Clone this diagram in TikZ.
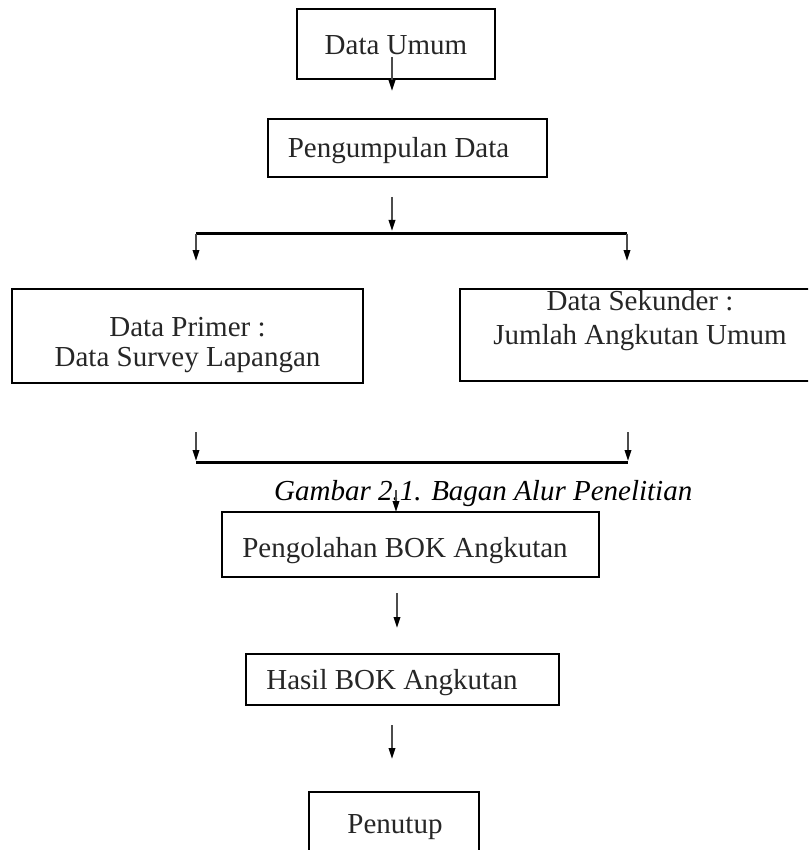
\documentclass[tikz,border=0pt]{standalone}
\usepackage{fontspec}
\setmainfont{Liberation Serif}
\usetikzlibrary{arrows.meta}
\begin{document}
\begin{tikzpicture}[x=1pt,y=-1pt,
  box/.style={draw=black,line width=1.7pt,inner sep=0pt,outer sep=0pt},
  lbl/.style={font=\fontsize{29}{31}\selectfont,anchor=base,inner sep=0pt,text=black!85},
  arr/.style={draw=black!70,line width=2pt,-{Triangle[length=11pt,width=6.5pt,fill=black,color=black]}},
  bar/.style={draw=black,line width=2.8pt}]
\useasboundingbox (0,0) rectangle (808,850);
\clip (0,0) rectangle (808,850);
% boxes
\node[box,minimum width=198pt,minimum height=70pt] (du) at (396,44) {};
\node[box,minimum width=279pt,minimum height=58pt] (pd) at (407.5,148) {};
\node[box,minimum width=351pt,minimum height=94pt] (dp) at (187.5,336) {};
\node[box,minimum width=360pt,minimum height=92pt] (ds) at (640,335) {};
\node[box,minimum width=377pt,minimum height=65pt] (pb) at (410.5,544.5) {};
\node[box,minimum width=313pt,minimum height=51pt] (hb) at (402.5,679.5) {};
\node[box,minimum width=170pt,minimum height=88pt] (pt) at (394,836) {};
% texts
\node[lbl] (tdu) at (396,55) {Data Umum};
\node[lbl] (tpd) at (398.5,158) {Pengumpulan Data};
\node[lbl] (tdp1) at (187.5,336) {Data Primer :};
\node[lbl] (tdp2) at (187.5,366) {Data Survey Lapangan};
\node[lbl] (tds1) at (640,310) {Data Sekunder :};
\node[lbl] (tds2) at (640,344) {Jumlah Angkutan Umum};
\node[lbl,anchor=base west,font=\fontsize{29}{31}\selectfont\itshape,text=black] (cap) at (274,500) {Gambar 2.1. Bagan Alur Penelitian};
\node[lbl] (tpb) at (405,557) {Pengolahan BOK Angkutan};
\node[lbl] (thb) at (392,689) {Hasil BOK Angkutan};
\node[lbl] (tpt) at (395,833) {Penutup};
% connector points
\coordinate (a1s) at (392,57);  \coordinate (a1e) at (392,91);
\coordinate (a2s) at (392,197); \coordinate (a2e) at (392,231);
\coordinate (b1l) at (196,233.5); \coordinate (b1r) at (627,233.5);
\coordinate (l1e) at (196,261); \coordinate (r1e) at (627,261);
\coordinate (l2s) at (196,432); \coordinate (l2e) at (196,461);
\coordinate (r2s) at (628,432); \coordinate (r2e) at (628,461);
\coordinate (b2l) at (196,462.5); \coordinate (b2r) at (628,462.5);
\coordinate (c1s) at (396,490); \coordinate (c1e) at (396,512);
\coordinate (c2s) at (397,593); \coordinate (c2e) at (397,628);
\coordinate (c3s) at (392,725); \coordinate (c3e) at (392,759);
% connectors
\draw[arr] (a1s) -- (a1e);
\draw[arr] (a2s) -- (a2e);
\draw[bar] (b1l) -- (b1r);
\draw[arr] (b1l) -- (l1e);
\draw[arr] (b1r) -- (r1e);
\draw[arr] (l2s) -- (l2e);
\draw[arr] (r2s) -- (r2e);
\draw[bar] (b2l) -- (b2r);
\draw[arr] (c1s) -- (c1e);
\draw[arr] (c2s) -- (c2e);
\draw[arr] (c3s) -- (c3e);
\end{tikzpicture}
\end{document}
